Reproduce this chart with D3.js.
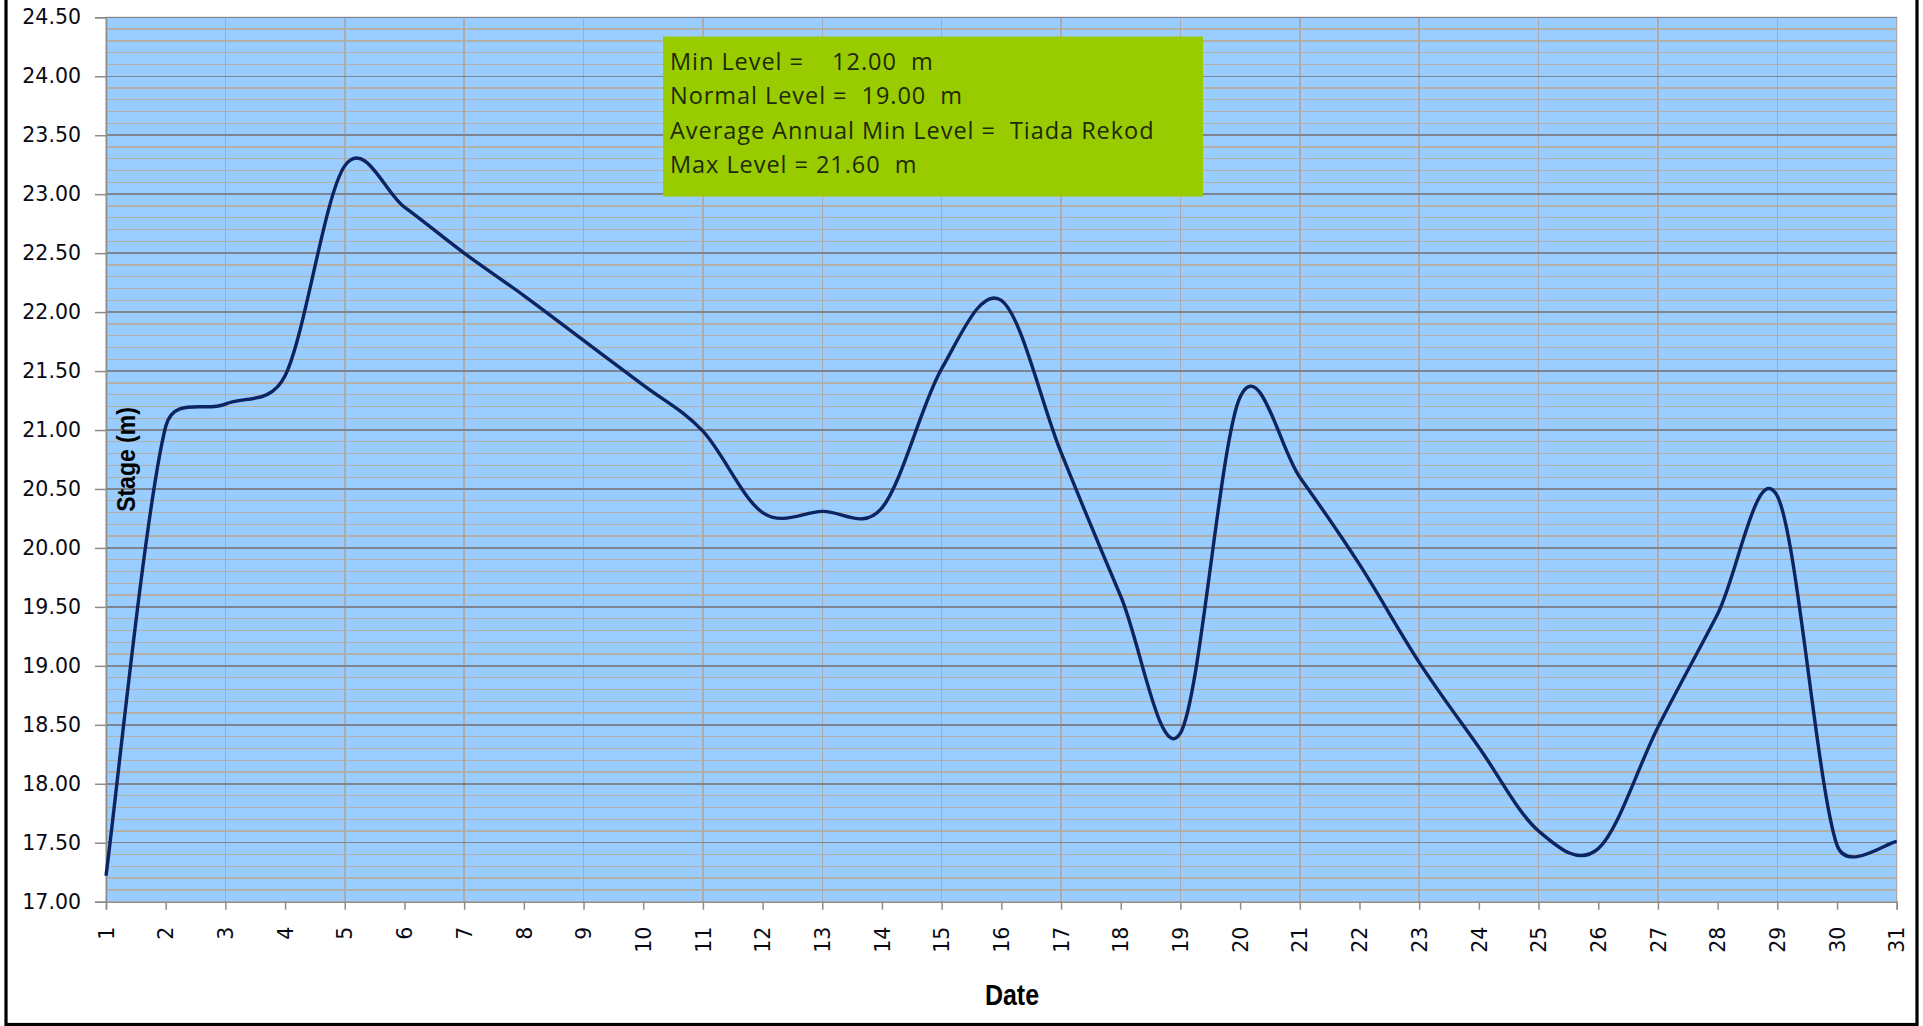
<!DOCTYPE html>
<html><head><meta charset="utf-8">
<script src="https://cdn.jsdelivr.net/npm/d3@7"></script>
<style>body{margin:0;background:#fff;overflow:hidden}</style>
</head><body>
<svg id="c" width="1923" height="1026"></svg>
<script>
// ---- data ----
const days = [1,2,3,4,5,6,7,8,9,10,11,12,13,14,15,16,17,18,19,20,21,22,23,24,25,26,27,28,29,30,31];
const stage = [17.22,21.03,21.22,21.46,23.24,22.89,22.50,22.14,21.76,21.38,20.99,20.30,20.31,20.34,21.52,22.10,20.81,19.59,18.43,21.28,20.60,19.86,19.03,18.31,17.60,17.45,18.48,19.44,20.44,17.48,17.51];
const yTicks = [17.00,17.50,18.00,18.50,19.00,19.50,20.00,20.50,21.00,21.50,22.00,22.50,23.00,23.50,24.00,24.50];
const noteLines = ["Min Level =    12.00  m","Normal Level =  19.00  m","Average Annual Min Level =  Tiada Rekod","Max Level = 21.60  m"];
const xTitle = "Date";
const yTitle = "Stage (m)";

// Excel-like smoothed line: Catmull-Rom Bezier (1/6 tension) with control
// distance capped at half the segment length
function ExcelCurve(context){ this._context = context; }
ExcelCurve.prototype = {
  areaStart(){}, areaEnd(){},
  lineStart(){ this._pts = []; },
  point(x,y){ this._pts.push([+x,+y]); },
  lineEnd(){
    const p = this._pts, n = p.length, c = this._context;
    if(!n) return;
    const dist = (a,b)=>Math.hypot(a[0]-b[0], a[1]-b[1]);
    c.moveTo(p[0][0], p[0][1]);
    for(let i=0;i<n-1;i++){
      const p0=p[Math.max(i-1,0)], p1=p[i], p2=p[i+1], p3=p[Math.min(i+2,n-1)];
      const d12=dist(p1,p2), d02=dist(p0,p2), d13=dist(p1,p3);
      const f1 = d02>0 ? Math.min(1/6, d12/(2*d02)) : 0;
      const f2 = d13>0 ? Math.min(1/6, d12/(2*d13)) : 0;
      c.bezierCurveTo(
        p1[0]+(p2[0]-p0[0])*f1, p1[1]+(p2[1]-p0[1])*f1,
        p2[0]-(p3[0]-p1[0])*f2, p2[1]-(p3[1]-p1[1])*f2,
        p2[0], p2[1]);
    }
  }
};
const excelCurve = ctx => new ExcelCurve(ctx);

// ---- layout ----
const svg = d3.select("#c");
const P = {left:106, right:1896.7, top:17.3, bottom:901.7};
const x = d3.scaleLinear().domain([1,31]).range([P.left, P.right]);
const y = d3.scaleLinear().domain([17,24.5]).range([P.bottom, P.top]);

// outer frame
svg.append("rect").attr("x",6).attr("y",-10).attr("width",1911).attr("height",1034.5)
  .attr("fill","#fff").attr("stroke","#000").attr("stroke-width",3.2);

// plot area
svg.append("rect").attr("x",P.left).attr("y",P.top).attr("width",P.right-P.left).attr("height",P.bottom-P.top)
  .attr("fill","#99CCFF").attr("stroke","#C8C8C8").attr("stroke-width",1.5);

const g = svg.append("g").attr("shape-rendering","crispEdges");
const minor = y.ticks(75).filter(v => Math.abs(v*2 - Math.round(v*2)) > 1e-6);
g.selectAll(".mn").data(minor).join("line")
  .attr("x1",P.left).attr("x2",P.right).attr("y1",d=>y(d)).attr("y2",d=>y(d))
  .attr("stroke","#B4B0A8").attr("stroke-width",1.3);
g.selectAll(".vg").data(days.filter(d=>d>1 && d%2===1)).join("line")
  .attr("x1",d=>x(d)).attr("x2",d=>x(d)).attr("y1",P.top).attr("y2",P.bottom)
  .attr("stroke","#ABABAB").attr("stroke-width",1.5);
g.selectAll(".mj").data(yTicks.filter(v=>v>17)).join("line")
  .attr("x1",P.left).attr("x2",P.right).attr("y1",d=>y(d)).attr("y2",d=>y(d))
  .attr("stroke","#7D8590").attr("stroke-width",1.5);

// axes
const fontAx = "Tahoma, 'DejaVu Sans', sans-serif";
const yAxis = svg.append("g").attr("transform",`translate(${P.left},0)`)
  .call(d3.axisLeft(y).tickValues(yTicks).tickSize(11).tickPadding(14).tickFormat(d3.format(".2f")));
const xAxis = svg.append("g").attr("transform",`translate(0,${P.bottom})`)
  .call(d3.axisBottom(x).tickValues(days).tickSize(8).tickFormat(d=>d));
[yAxis,xAxis].forEach(a=>{
  a.select(".domain").attr("stroke","#8C8C8C").attr("stroke-width",1.5);
  a.selectAll(".tick line").attr("stroke","#8C8C8C").attr("stroke-width",1.5);
  a.selectAll("text").attr("font-family",fontAx).attr("font-size",20.5).attr("fill","#0A0A14");
});
xAxis.selectAll("text").attr("transform","rotate(-90)").attr("x",-25).attr("y",0)
  .attr("dy","0.35em").attr("text-anchor","end");

// series line
const line = d3.line().x((d,i)=>x(days[i])).y(d=>y(d)).curve(excelCurve);
svg.append("path").datum(stage).attr("d",line).attr("fill","none")
  .attr("stroke","#0C2462").attr("stroke-width",3.4).attr("stroke-linejoin","round");

// annotation box
svg.append("rect").attr("x",663).attr("y",36.5).attr("width",540).attr("height",160).attr("fill","#99CC00");
svg.append("g").selectAll("text").data(noteLines).join("text")
  .attr("x",670).attr("y",(d,i)=>69.5+i*34.6)
  .attr("font-family","'Open Sans', Lato, sans-serif").attr("font-size",23.5).attr("letter-spacing",0.95)
  .attr("fill","#1E2A08").style("white-space","pre").text(d=>d);

// axis titles
svg.append("text").attr("transform","translate(1012,1005) scale(1,1.15)")
  .attr("text-anchor","middle").attr("font-family","'Liberation Sans', Arial, sans-serif")
  .attr("font-weight","bold").attr("font-size",25).attr("fill","#000").text(xTitle);
svg.append("text").attr("transform",`translate(135,${(P.top+P.bottom)/2}) rotate(-90) scale(1,1.12)`)
  .attr("text-anchor","middle").attr("font-family","'Liberation Sans', Arial, sans-serif")
  .attr("font-weight","bold").attr("font-size",23).attr("fill","#000").text(yTitle);
</script>
</body></html>
